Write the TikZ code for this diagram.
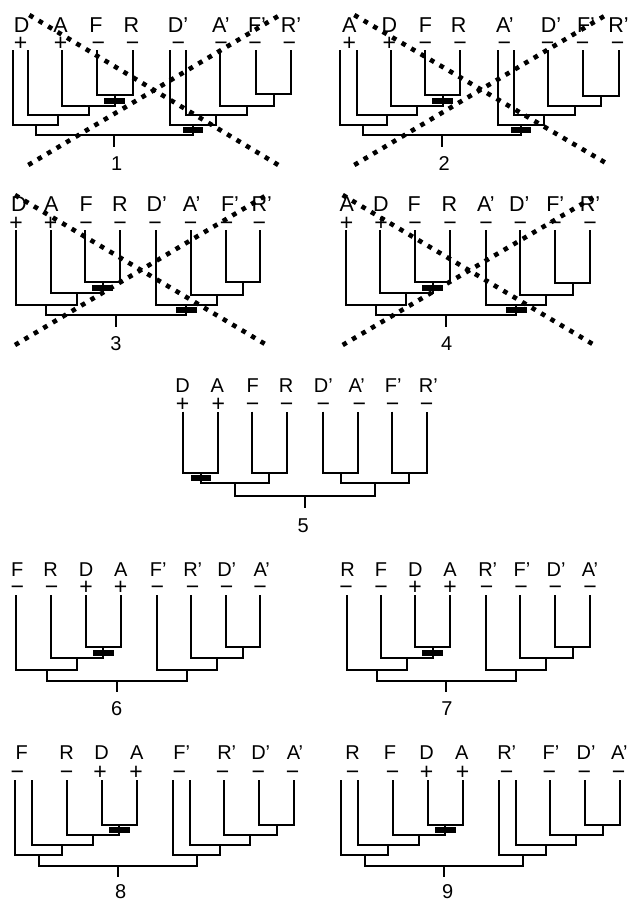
\documentclass[tikz,border=0pt]{standalone}
\usepackage{fontspec}
\setmainfont{Liberation Sans}
\usetikzlibrary{calc}
% join two children (#2,#3) into internal node #1 whose bar lies at y=#4 (pixels)
\newcommand\jn[4]{\path let \p1=(#2), \p2=(#3) in coordinate (#1) at ({0.5*\x1+0.5*\x2},{-0.5pt*#4});
  \draw[br] (#2) |- (#1) -| (#3);}
\newcommand\rootstem[3]{\coordinate (#2) at ($(#1)+(0,#3)$); \draw[br] (#1) -- (#2);}
\newcommand\leaves[3]{\foreach \n/\x in {#3} {\coordinate (#1\n) at (\x,#2);}}
\newcommand\labs[4]{\foreach \t/\x [count=\i] in {#4} {\node[#2] (#1l\i) at (\x,#3) {\t};}}
\newcommand\sgns[3]{\foreach \t/\x [count=\i] in {#3} {\node[sg] (#1s\i) at (\x,#2) {\t};}}
\begin{document}
\begin{tikzpicture}[x=0.5pt,y=-0.5pt,
  br/.style={line width=1pt, line join=miter},
  lab/.style={font=\fontsize{10}{12}\selectfont, anchor=base, inner sep=0pt},
  labb/.style={font=\fontsize{10.75}{12}\selectfont, anchor=base, inner sep=0pt},
  sg/.style={font=\fontsize{11.5}{12}\selectfont, text height=8.1pt, text depth=0pt, inner sep=0pt, anchor=center},
  num/.style={font=\fontsize{10}{12}\selectfont, text height=7.16pt, text depth=0pt, inner sep=0pt, anchor=center},
  mk/.style={rectangle, fill=black, minimum width=10.3pt, minimum height=3pt, inner sep=0pt},
  dots/.style={line width=2.3pt, dash pattern=on 2.3pt off 3.2pt, line cap=butt}]
\useasboundingbox (0,0) rectangle (632,900);

% ---------------- Tree 1 ----------------
\leaves{t1}{50}{a/12.7,b/28.3,c/62.3,d/96.7,e/132.7,v/170,w/185.7,x/220,y/256,z/291}
\jn{t1n1}{t1d}{t1e}{95}
\jn{t1n2}{t1c}{t1n1}{106}
\jn{t1n3}{t1b}{t1n2}{115}
\jn{t1n4}{t1a}{t1n3}{125}
\jn{t1m1}{t1y}{t1z}{94}
\jn{t1m2}{t1x}{t1m1}{106}
\jn{t1m3}{t1w}{t1m2}{115}
\jn{t1m4}{t1v}{t1m3}{125}
\jn{t1r}{t1n4}{t1m4}{135}
\rootstem{t1r}{t1s}{12}
\path (t1n1) -- (t1n1 |- t1n2) node[mk,midway] (t1k1) {};
\path (t1m4) -- (t1m4 |- t1r) node[mk,midway] (t1k2) {};
\labs{t1}{labb}{32.3}{D/21.7,A/60.5,F/96,R/131.5,D’/178,A’/221,F’/257,R’/291}
\sgns{t1}{42.3}{+/20.7,+/60.7,−/98.3,−/132.7,−/178.3,−/221,−/255,−/289.3}
\node[num] (t1num) at (116.7,163.3) {1};

% ---------------- Tree 2 ----------------
\leaves{t2}{50}{a/340,b/356.7,c/391,d/425.3,e/460,v/497.7,w/514.3,x/548.3,y/582.7,z/618.7}
\jn{t2n1}{t2d}{t2e}{95}
\jn{t2n2}{t2c}{t2n1}{106}
\jn{t2n3}{t2b}{t2n2}{115}
\jn{t2n4}{t2a}{t2n3}{125}
\jn{t2m1}{t2y}{t2z}{96}
\jn{t2m2}{t2x}{t2m1}{106}
\jn{t2m3}{t2w}{t2m2}{115}
\jn{t2m4}{t2v}{t2m3}{125}
\jn{t2r}{t2n4}{t2m4}{135}
\rootstem{t2r}{t2s}{12}
\path (t2n1) -- (t2n1 |- t2n2) node[mk,midway] (t2k1) {};
\path (t2m4) -- (t2m4 |- t2r) node[mk,midway] (t2k2) {};
\labs{t2}{labb}{32.3}{A/349.3,D/389.3,F/425.5,R/458.7,A’/505,D’/551,F’/586,R’/618.5}
\sgns{t2}{42.3}{+/349.3,+/389.3,−/425.3,−/460,−/504.3,−/547.7,−/582.7,−/617.7}
\node[num] (t2num) at (444.3,163.3) {2};

% ---------------- Tree 3 ----------------
\leaves{t3}{230}{a/16,b/50.7,c/85,d/120,v/156,w/190.7,x/226,y/260}
\jn{t3n1}{t3c}{t3d}{281.7}
\jn{t3n2}{t3b}{t3n1}{293.3}
\jn{t3n3}{t3a}{t3n2}{305}
\jn{t3m1}{t3x}{t3y}{281.7}
\jn{t3m2}{t3w}{t3m1}{295}
\jn{t3m3}{t3v}{t3m2}{305}
\jn{t3r}{t3n3}{t3m3}{315}
\rootstem{t3r}{t3s}{11.7}
\path (t3n1) -- (t3n1 |- t3n2) node[mk,midway] (t3k1) {};
\path (t3m3) -- (t3m3 |- t3r) node[mk,midway] (t3k2) {};
\labs{t3}{labb}{211.7}{D/19,A/51.3,F/86.3,R/120,D’/156.7,A’/191.7,F’/230,R’/261.7}
\sgns{t3}{222.3}{+/16,+/50.7,−/86,−/120,−/155,−/190.7,−/226.7,−/259.3}
\node[num] (t3num) at (116,343.3) {3};

% ---------------- Tree 4 ----------------
\leaves{t4}{230}{a/346,b/380.3,c/415,d/450,v/486,w/520.3,x/555,y/590}
\jn{t4n1}{t4c}{t4d}{281.7}
\jn{t4n2}{t4b}{t4n1}{293.3}
\jn{t4n3}{t4a}{t4n2}{305}
\jn{t4m1}{t4x}{t4y}{282.7}
\jn{t4m2}{t4w}{t4m1}{295}
\jn{t4m3}{t4v}{t4m2}{305}
\jn{t4r}{t4n3}{t4m3}{315}
\rootstem{t4r}{t4s}{11.7}
\path (t4n1) -- (t4n1 |- t4n2) node[mk,midway] (t4k1) {};
\path (t4m3) -- (t4m3 |- t4r) node[mk,midway] (t4k2) {};
\labs{t4}{labb}{211.7}{A/346.7,D/381,F/414.3,R/449.3,A’/486,D’/519.3,F’/555.3,R’/590}
\sgns{t4}{222.3}{+/346.7,+/381,−/415,−/450,−/486,−/520.3,−/555,−/590}
\node[num] (t4num) at (446.7,343.3) {4};

% ---------------- Tree 5 ----------------
\leaves{t5}{411.7}{a/183.3,b/218.3,c/251.7,d/286.7,v/323.3,w/358.3,x/391.7,y/426.7}
\jn{t5n1}{t5a}{t5b}{472.7}
\jn{t5n2}{t5c}{t5d}{472.7}
\jn{t5n3}{t5n1}{t5n2}{483.3}
\jn{t5m1}{t5v}{t5w}{472.7}
\jn{t5m2}{t5x}{t5y}{472.7}
\jn{t5m3}{t5m1}{t5m2}{483.3}
\jn{t5r}{t5n3}{t5m3}{496}
\rootstem{t5r}{t5s}{12.3}
\path (t5n1) -- (t5n1 |- t5n3) node[mk,midway] (t5k1) {};
\labs{t5}{lab}{392.7}{D/182.7,A/217.3,F/252.7,R/286,D’/323.3,A’/356.7,F’/393.3,R’/428.3}
\sgns{t5}{403.3}{+/182.7,+/218.3,−/252.7,−/286.7,−/323.3,−/359.3,−/392.7,−/426.7}
\node[num] (t5num) at (303.3,525) {5};

% ---------------- Tree 6 ----------------
\leaves{t6}{595}{a/16,b/50.7,c/86,d/120.7,v/156.7,w/190.7,x/225.7,y/260}
\jn{t6n1}{t6c}{t6d}{647.3}
\jn{t6n2}{t6b}{t6n1}{658.3}
\jn{t6n3}{t6a}{t6n2}{670}
\jn{t6m1}{t6x}{t6y}{647.3}
\jn{t6m2}{t6w}{t6m1}{658.3}
\jn{t6m3}{t6v}{t6m2}{670}
\jn{t6r}{t6n3}{t6m3}{680.7}
\rootstem{t6r}{t6s}{11}
\path (t6n1) -- (t6n1 |- t6n2) node[mk,midway] (t6k1) {};
\labs{t6}{lab}{576}{F/17.3,R/50.7,D/86,A/120.7,F’/158.3,R’/192.7,D’/226.7,A’/261.7}
\sgns{t6}{586.7}{−/17.3,−/51.7,+/86,+/120.7,−/157.3,−/192.7,−/226.7,−/260}
\node[num] (t6num) at (116.7,708.3) {6};

% ---------------- Tree 7 ----------------
\leaves{t7}{595}{a/346.7,b/381,c/415,d/450,v/486,w/520.3,x/555,y/590}
\jn{t7n1}{t7c}{t7d}{647.3}
\jn{t7n2}{t7b}{t7n1}{658.3}
\jn{t7n3}{t7a}{t7n2}{670}
\jn{t7m1}{t7x}{t7y}{647.3}
\jn{t7m2}{t7w}{t7m1}{658.3}
\jn{t7m3}{t7v}{t7m2}{670}
\jn{t7r}{t7n3}{t7m3}{680.7}
\rootstem{t7r}{t7s}{11}
\path (t7n1) -- (t7n1 |- t7n2) node[mk,midway] (t7k1) {};
\labs{t7}{lab}{576}{R/347.7,F/381,D/415.3,A/450,R’/487.7,F’/522,D’/556,A’/590}
\sgns{t7}{586.7}{−/346,−/381,+/415,+/450,−/486.7,−/521,−/555.3,−/590}
\node[num] (t7num) at (447,708.3) {7};

% ---------------- Tree 8 ----------------
\leaves{t8}{780}{a/15,b/31.7,c/66.7,d/101.7,e/136.7,v/173.3,w/190,x/224,y/259.3,z/294}
\jn{t8n1}{t8d}{t8e}{825}
\jn{t8n2}{t8c}{t8n1}{835}
\jn{t8n3}{t8b}{t8n2}{845}
\jn{t8n4}{t8a}{t8n3}{855}
\jn{t8m1}{t8y}{t8z}{825}
\jn{t8m2}{t8x}{t8m1}{835}
\jn{t8m3}{t8w}{t8m2}{845}
\jn{t8m4}{t8v}{t8m3}{855}
\jn{t8r}{t8n4}{t8m4}{865.7}
\rootstem{t8r}{t8s}{11}
\path (t8n1) -- (t8n1 |- t8n2) node[mk,midway] (t8k1) {};
\labs{t8}{lab}{759.3}{F/21.7,R/66.7,D/101.7,A/136.7,F’/181.7,R’/226.7,D’/260.7,A’/295}
\sgns{t8}{771.7}{−/17.3,−/66.7,+/100,+/136,−/179.3,−/222.7,−/258.3,−/292.7}
\node[num] (t8num) at (120.7,891.5) {8};

% ---------------- Tree 9 ----------------
\leaves{t9}{780}{a/341,b/357.7,c/392.7,d/427.7,e/462.7,v/499.3,w/516,x/550.3,y/585.3,z/620}
\jn{t9n1}{t9d}{t9e}{825}
\jn{t9n2}{t9c}{t9n1}{835}
\jn{t9n3}{t9b}{t9n2}{845}
\jn{t9n4}{t9a}{t9n3}{855}
\jn{t9m1}{t9y}{t9z}{825}
\jn{t9m2}{t9x}{t9m1}{835}
\jn{t9m3}{t9w}{t9m2}{845}
\jn{t9m4}{t9v}{t9m3}{855}
\jn{t9r}{t9n4}{t9m4}{865.7}
\rootstem{t9r}{t9s}{11}
\path (t9n1) -- (t9n1 |- t9n2) node[mk,midway] (t9k1) {};
\labs{t9}{lab}{759.3}{R/352.7,F/390,D/426.7,A/461.7,R’/506.7,F’/551,D’/586,A’/619.3}
\sgns{t9}{771.7}{−/352.7,−/392.7,+/426.7,+/462.7,−/506.7,−/549.3,−/584.3,−/618.7}
\node[num] (t9num) at (447.7,891.5) {9};

% ---------------- crossing dotted lines ----------------
\coordinate (x1a) at (29.3,15);  \coordinate (x1b) at (278.3,165);
\coordinate (x1c) at (28.3,165); \coordinate (x1d) at (280,15);
\coordinate (x2a) at (354.3,15); \coordinate (x2b) at (609.3,165);
\coordinate (x2c) at (354.3,165); \coordinate (x2d) at (606,15);
\coordinate (x3a) at (15,195);   \coordinate (x3b) at (266.7,345);
\coordinate (x3c) at (15,345);   \coordinate (x3d) at (266.7,195);
\coordinate (x4a) at (342.7,195); \coordinate (x4b) at (594.3,345);
\coordinate (x4c) at (342.7,345); \coordinate (x4d) at (594.3,196.7);
\foreach \k in {1,2,3,4} {
  \draw[dots] (x\k a) -- (x\k b);
  \draw[dots] (x\k c) -- (x\k d);
}
\end{tikzpicture}
\end{document}
